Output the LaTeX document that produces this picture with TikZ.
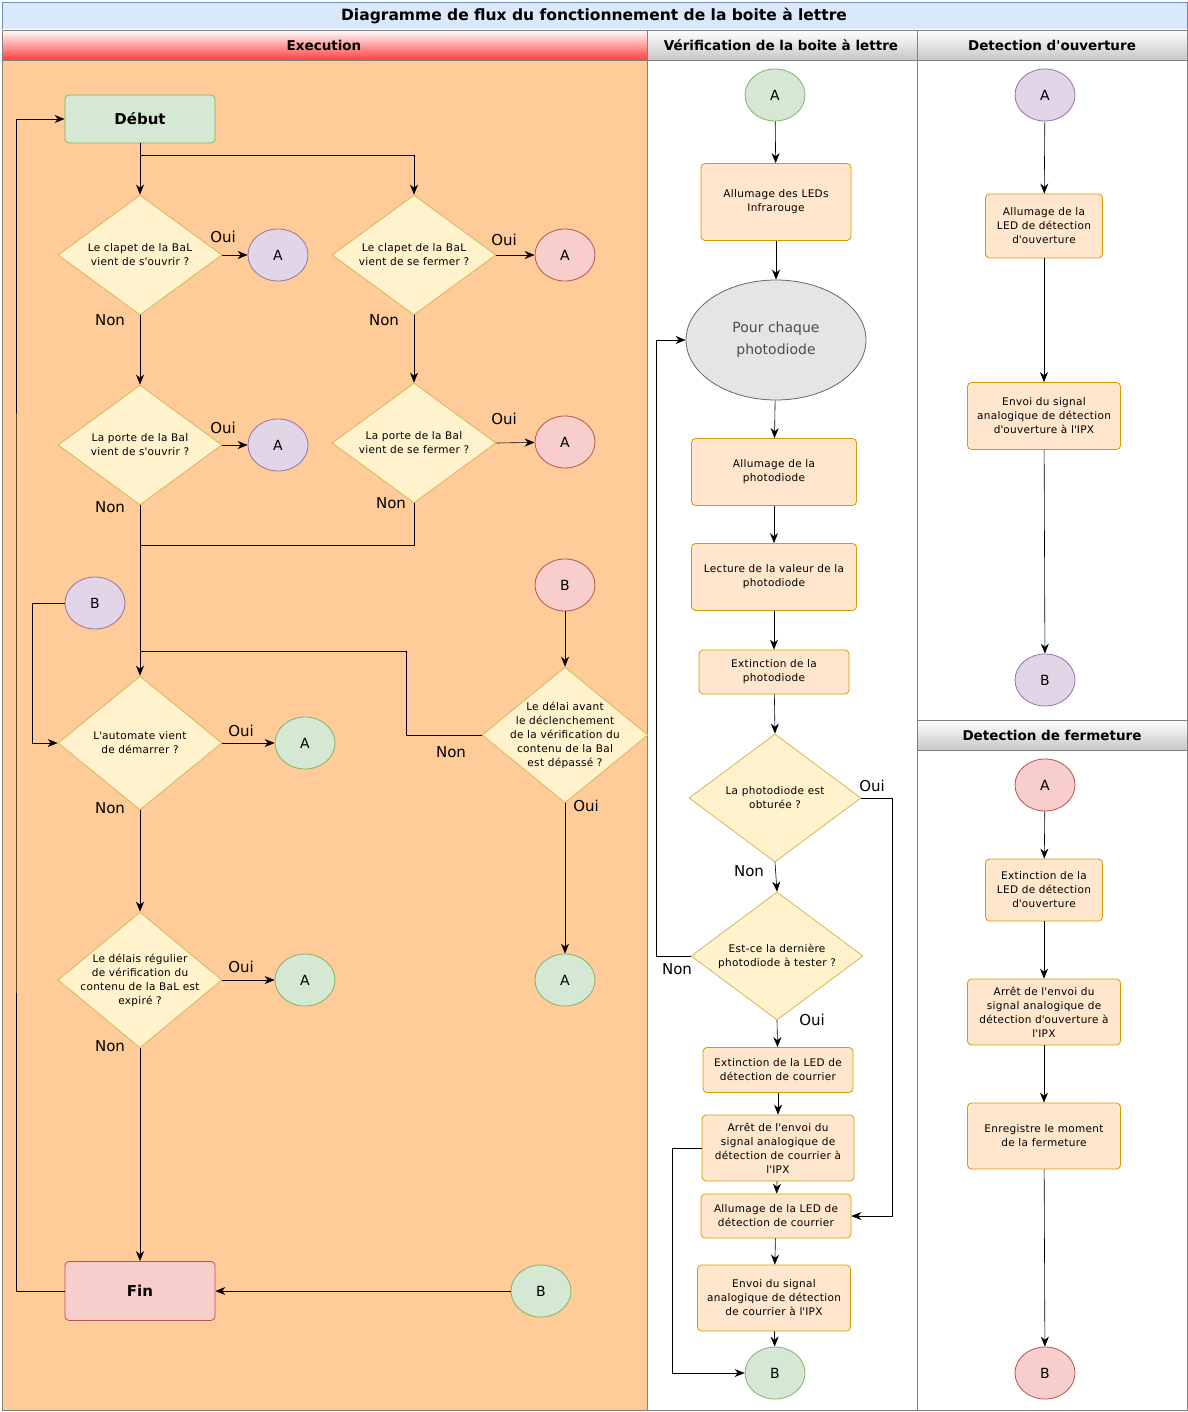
\documentclass[tikz,border=0pt]{standalone}
\usepackage{fontspec}
\setmainfont{DejaVu Sans}
\usetikzlibrary{arrows,arrows.meta,positioning,calc,shapes.geometric}
\definecolor{procF}{HTML}{FFE6CC}\definecolor{procD}{HTML}{D79B00}
\definecolor{decF}{HTML}{FFF2CC}\definecolor{decD}{HTML}{D6B656}
\definecolor{purF}{HTML}{E1D5E7}\definecolor{purD}{HTML}{9673A6}
\definecolor{redF}{HTML}{F8CECC}\definecolor{redD}{HTML}{B85450}
\definecolor{grnF}{HTML}{D5E8D4}\definecolor{grnD}{HTML}{82B366}
\definecolor{laneF}{HTML}{FFCC99}\definecolor{titF}{HTML}{DAE8FC}\definecolor{titD}{HTML}{6C8EBF}
\newcommand\ap{\textquotesingle}
\begin{document}
\begin{tikzpicture}[x=1pt,y=-1pt,thick,
				arr/.style={-{Stealth[length=10pt,width=8pt]},black,semithick},
				small/.style={font=\fontsize{10.5}{14}\selectfont\addfontfeatures{LetterSpace=3},align=center},
				proc/.style={draw=procD,fill=procF,rectangle,rounded corners=4pt,small,inner sep=2pt},
				dec/.style={draw=decD,fill=decF,diamond,inner sep=0pt,minimum width=164,minimum height=#1},
				dec/.default=124,
				purCircle/.style={draw=purD,fill=purF,ellipse,minimum width=60,minimum height=52,font=\fontsize{14}{16}\selectfont},
				redCircle/.style={draw=redD,fill=redF,ellipse,minimum width=60,minimum height=52,font=\fontsize{14}{16}\selectfont},
				grnCircle/.style={draw=grnD,fill=grnF,ellipse,minimum width=60,minimum height=52,font=\fontsize{14}{16}\selectfont},
				lbl/.style={font=\fontsize{15}{17}\selectfont},
				header/.style={draw=gray,semithick,top color=white,bottom color=black!22},
				hdtext/.style={font=\fontsize{13.5}{15}\selectfont\bfseries}]
			\useasboundingbox (0,0) rectangle (1187,1412);
			% lanes
			\fill[laneF] (2,60) rectangle (647,1410);
			\draw[gray,semithick] (2,60) rectangle (647,1410);
			\draw[gray,semithick] (647,60) rectangle (917,1410);
			\draw[gray,semithick] (917,60) rectangle (1187,720);
			\draw[gray,semithick] (917,750) rectangle (1187,1410);
			\draw[titD,fill=titF,semithick] (2,2) rectangle (1187,30);
			\node[font=\fontsize{15.5}{17}\selectfont\bfseries] (title) at (594,16) {Diagramme de flux du fonctionnement de la boite à lettre};
			\draw[gray,semithick,top color=white,bottom color=red!75] (2,30) rectangle (647,60);
			\draw[header] (647,30) rectangle (917,60);
			\draw[header] (917,30) rectangle (1187,60);
			\draw[header] (917,720) rectangle (1187,750);
			\node[hdtext] (hExec) at (324,45) {Execution};
			\node[hdtext] (hVerif) at (781,45) {Vérification de la boite à lettre};
			\node[hdtext] (hOuv) at (1052,45) {Detection d\ap ouverture};
			\node[hdtext] (hFer) at (1052,735) {Detection de fermeture};

			% Execution
			\node[draw=grnD,fill=grnF,rounded corners=4pt,minimum width=150,minimum height=48,font=\fontsize{15}{17}\selectfont\bfseries] (debut) at (140,119) {Début};
			\node[dec=120,label={[small]center:Le clapet de la BaL\\vient de s\ap ouvrir ?}] (d1) at (140,255) {};
			\node[purCircle] (a1) at (278,255) {A};
			\node[dec=120,label={[small]center:Le clapet de la BaL\\vient de se fermer ?}] (d2) at (414,255) {};
			\node[redCircle] (a2) at (565,255) {A};
			\node[dec=120,label={[small]center:La porte de la Bal\\vient de s\ap ouvrir ?}] (d3) at (140,445) {};
			\node[purCircle] (a3) at (278,445) {A};
			\node[dec=120,label={[small]center:La porte de la Bal\\vient de se fermer ?}] (d4) at (414,443) {};
			\node[redCircle] (a4) at (565,442) {A};
			\node[purCircle] (b1) at (95,603) {B};
			\node[redCircle] (b2) at (565,585) {B};
			\node[dec=134,label={[small]center:L\ap automate vient\\de démarrer ?}] (d5) at (140,743) {};
			\node[grnCircle] (a5) at (305,743) {A};
			\node[dec=136,minimum width=166,label={[small]center:Le délai avant\\le déclenchement\\de la vérification du\\contenu de la Bal\\est dépassé ?}] (d6) at (565,735) {};
			\node[grnCircle] (a6) at (565,980) {A};
			\node[dec=136,label={[small]center:Le délais régulier\\de vérification du\\contenu de la BaL est\\expiré ?}] (d7) at (140,980) {};
			\node[grnCircle] (a7) at (305,980) {A};
			\node[draw=redD,fill=redF,rounded corners=4pt,minimum width=150,minimum height=59,font=\fontsize{15}{17}\selectfont\bfseries] (fin) at (140,1291) {Fin};
			\node[grnCircle] (b3) at (541,1291) {B};

			\coordinate (split) at (140,155);
			\coordinate (j1) at (140,545);
			\coordinate (j2) at (406,651);
			\coordinate (j3) at (140,651);
			\coordinate (jb) at (32,743);
			\coordinate (jf) at (16,700);
			\draw[arr] (debut) -- (d1);
			\draw[arr] (split) -| (d2.north);
			\draw[arr] (d1.east) -- (a1);
			\draw[arr] (d2.east) -- (a2);
			\draw[arr] (d1.south) -- (d3.north);
			\draw[arr] (d2.south) -- (d4.north);
			\draw[arr] (d3.east) -- (a3);
			\draw[arr] (d4.east) -- (a4);
			\draw[arr] (d3.south) -- (d5.north);
			\draw[semithick] (d4.south) |- (j1);
			\draw[semithick] (d6.west) -| (j2) -- (j3);
			\draw[arr] (b1.west) -| (jb) -- (d5.west);
			\draw[arr] (b2) -- (d6.north);
			\draw[arr] (d5.east) -- (a5);
			\draw[arr] (d6.south) -- (a6);
			\draw[arr] (d5.south) -- (d7.north);
			\draw[arr] (d7.east) -- (a7);
			\draw[arr] (d7.south) -- (fin);
			\draw[arr] (b3) -- (fin);
			\draw[arr] (fin.west) -| (jf) |- (debut.west);
			\node[lbl] (o1) at (223,237) {Oui};
			\node[lbl] (n1) at (110,320) {Non};
			\node[lbl] (o2) at (504,240) {Oui};
			\node[lbl] (n2) at (384,320) {Non};
			\node[lbl] (o3) at (223,428) {Oui};
			\node[lbl] (n3) at (110,507) {Non};
			\node[lbl] (o4) at (504,419) {Oui};
			\node[lbl] (n4) at (391,503) {Non};
			\node[lbl] (o5) at (241,731) {Oui};
			\node[lbl] (n5) at (110,808) {Non};
			\node[lbl] (n6) at (451,752) {Non};
			\node[lbl] (o6) at (586,806) {Oui};
			\node[lbl] (o7) at (241,967) {Oui};
			\node[lbl] (n7) at (110,1046) {Non};

			% Verification
			\node[grnCircle] (va) at (775,95) {A};
			\node[proc,minimum width=150,minimum height=77] (p1) at (776,202) {Allumage des LEDs\\Infrarouge};
			\node[draw=black!60,fill=black!10,ellipse,minimum width=180,minimum height=120,align=center,text=black!70,font=\fontsize{14}{22}\selectfont] (loop) at (776,340) {Pour chaque\\photodiode};
			\node[proc,minimum width=165,minimum height=67] (p2) at (774,472) {Allumage de la\\photodiode};
			\node[proc,minimum width=165,minimum height=67] (p3) at (774,577) {Lecture de la valeur de la\\photodiode};
			\node[proc,minimum width=150,minimum height=44] (p4) at (774,672) {Extinction de la\\photodiode};
			\node[dec=128,minimum width=172,label={[small]center:La photodiode est\\obturée ?}] (d8) at (775,798) {};
			\node[dec=128,minimum width=172,label={[small]center:Est-ce la dernière\\photodiode à tester ?}] (d9) at (777,956) {};
			\node[proc,minimum width=150,minimum height=45] (p5) at (778,1070) {Extinction de la LED de\\détection de courrier};
			\node[proc,minimum width=152,minimum height=66] (p6) at (778,1148) {Arrêt de l\ap envoi du\\signal analogique de\\détection de courrier à\\l\ap IPX};
			\node[proc,minimum width=150,minimum height=44] (p7) at (776,1216) {Allumage de la LED de\\détection de courrier};
			\node[proc,minimum width=153,minimum height=66] (p8) at (774,1298) {Envoi du signal\\analogique de détection\\de courrier à l\ap IPX};
			\node[grnCircle] (vb) at (775,1373) {B};
			\coordinate (jo) at (892,1000);
			\coordinate (jn) at (656,600);
			\coordinate (jp) at (672,1300);
			\draw[arr] (va) -- (p1);
			\draw[arr] (p1) -- (loop);
			\draw[arr] (loop) -- (p2);
			\draw[arr] (p2) -- (p3);
			\draw[arr] (p3) -- (p4);
			\draw[arr] (p4) -- (d8.north);
			\draw[arr] (d8.south) -- (d9.north);
			\draw[arr] (d8.east) -| (jo) |- (p7.east);
			\draw[arr] (d9.west) -| (jn) |- (loop.west);
			\draw[arr] (d9.south) -- (p5);
			\draw[arr] (p5) -- (p6);
			\draw[arr] (p6) -- (p7);
			\draw[arr] (p7) -- (p8);
			\draw[arr] (p8) -- (vb);
			\draw[arr] (p6.west) -| (jp) |- (vb.west);
			\node[lbl] (o8) at (872,786) {Oui};
			\node[lbl] (n8) at (749,871) {Non};
			\node[lbl] (n9) at (677,969) {Non};
			\node[lbl] (o9) at (812,1020) {Oui};

			% Detection d'ouverture
			\node[purCircle] (oa) at (1045,95) {A};
			\node[proc,minimum width=117,minimum height=64] (q1) at (1044,226) {Allumage de la\\LED de détection\\d\ap ouverture};
			\node[proc,minimum width=153,minimum height=67] (q2) at (1044,416) {Envoi du signal\\analogique de détection\\d\ap ouverture à l\ap IPX};
			\node[purCircle] (ob) at (1045,680) {B};
			\draw[arr] (oa) -- (q1);
			\draw[arr] (q1) -- (q2);
			\draw[arr] (q2) -- (ob);

			% Detection de fermeture
			\node[redCircle] (fa) at (1045,785) {A};
			\node[proc,minimum width=117,minimum height=62] (r1) at (1044,890) {Extinction de la\\LED de détection\\d\ap ouverture};
			\node[proc,minimum width=153,minimum height=66] (r2) at (1044,1012) {Arrêt de l\ap envoi du\\signal analogique de\\détection d\ap ouverture à\\l\ap IPX};
			\node[proc,minimum width=153,minimum height=66] (r3) at (1044,1136) {Enregistre le moment\\de la fermeture};
			\node[redCircle] (fb) at (1045,1373) {B};
			\draw[arr] (fa) -- (r1);
			\draw[arr] (r1) -- (r2);
			\draw[arr] (r2) -- (r3);
			\draw[arr] (r3) -- (fb);
		\end{tikzpicture}
\end{document}
